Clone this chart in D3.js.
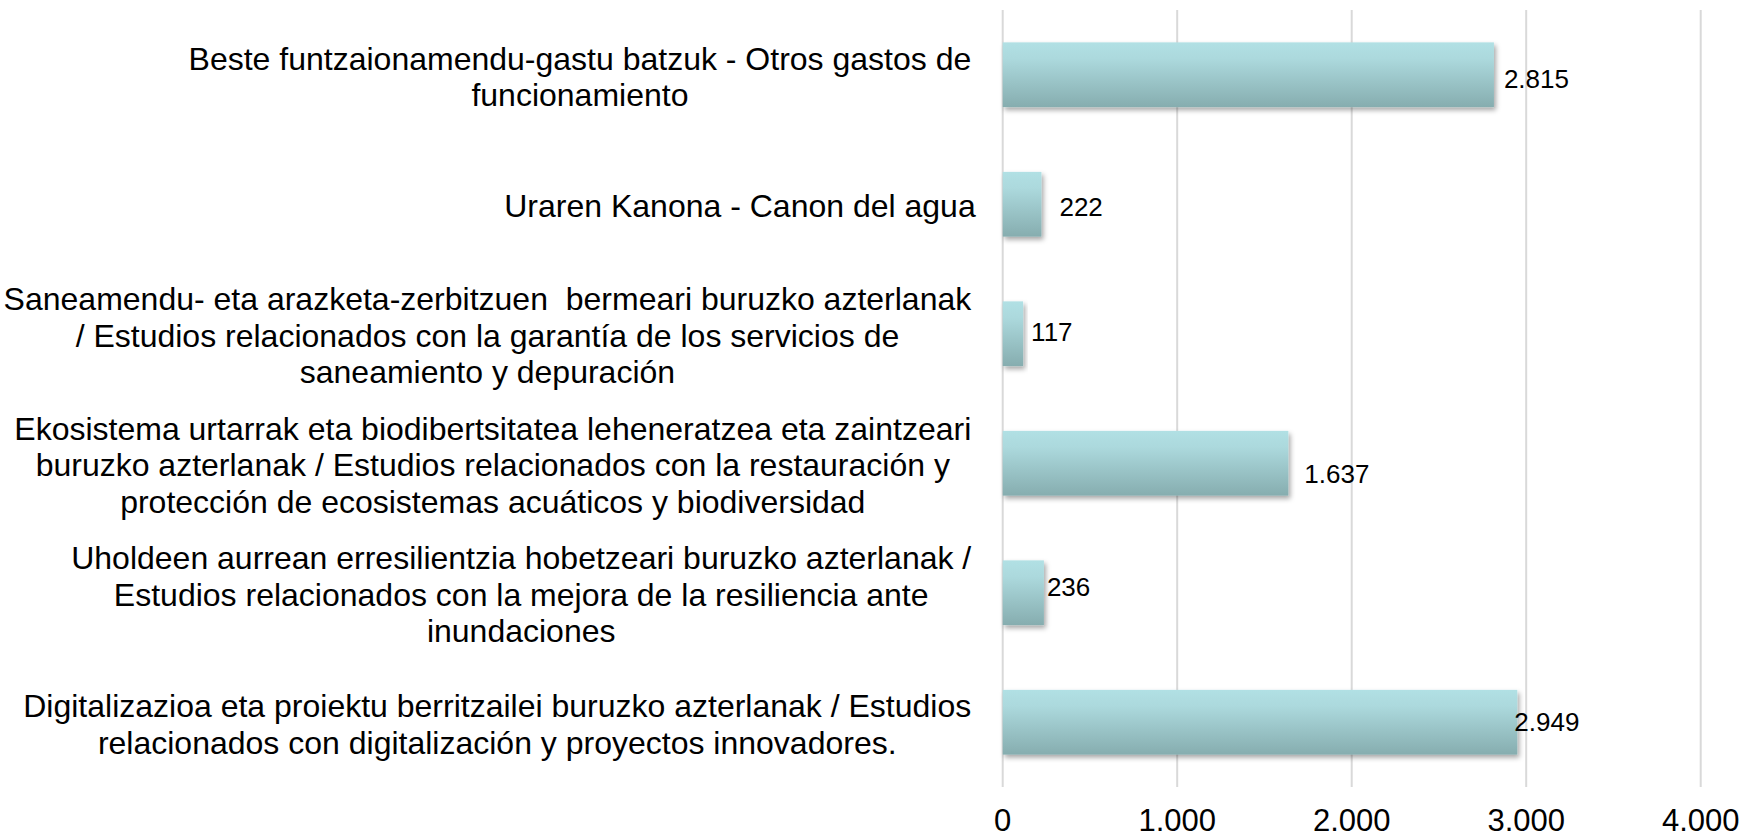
<!DOCTYPE html>
<html>
<head>
<meta charset="utf-8">
<script src="https://cdn.jsdelivr.net/npm/d3@7"></script>
<style>
  body { margin: 0; background: #fff; }
  svg text { font-family: "Liberation Sans", Arial, sans-serif; white-space: pre; }
</style>
</head>
<body>
<svg id="chart"></svg>
<script>
// Categories (each entry = wrapped lines, top to bottom as in the chart)
var categories = [
    ["Beste funtzaionamendu-gastu batzuk - Otros gastos de", "funcionamiento"],
    ["Uraren Kanona - Canon del agua"],
    ["Saneamendu- eta arazketa-zerbitzuen  bermeari buruzko azterlanak", "/ Estudios relacionados con la garantía de los servicios de", "saneamiento y depuración"],
    ["Ekosistema urtarrak eta biodibertsitatea leheneratzea eta zaintzeari", "buruzko azterlanak / Estudios relacionados con la restauración y", "protección de ecosistemas acuáticos y biodiversidad"],
    ["Uholdeen aurrean erresilientzia hobetzeari buruzko azterlanak /", "Estudios relacionados con la mejora de la resiliencia ante", "inundaciones"],
    ["Digitalizazioa eta proiektu berritzailei buruzko azterlanak / Estudios", "relacionados con digitalización y proyectos innovadores."]
];
var values = [2815, 222, 117, 1637, 236, 2949];
var tickValues = [0, 1000, 2000, 3000, 4000];
var tickLabels = ["0", "1.000", "2.000", "3.000", "4.000"];

// data labels were hand-placed in the original, small nudges [dx, dy]
var labelNudge = [[10, 4], [18, 3], [8, -2], [16, 11], [3, -6], [-3, 0]];

var width = 1744, height = 839;
var plotLeft = 1002.7, plotRight = 1700.7, plotTop = 10, plotBottom = 787;

var svg = d3.select("#chart")
    .attr("width", width)
    .attr("height", height);

var defs = svg.append("defs");
var grad = defs.append("linearGradient")
    .attr("id", "barGrad")
    .attr("x1", 0).attr("y1", 0).attr("x2", 0).attr("y2", 1);
grad.append("stop").attr("offset", "0%").attr("stop-color", "#b1e0e4");
grad.append("stop").attr("offset", "25%").attr("stop-color", "#acd9dd");
grad.append("stop").attr("offset", "100%").attr("stop-color", "#86adaf");

var shadow = defs.append("filter")
    .attr("id", "shadow")
    .attr("x", "-10%").attr("y", "-20%")
    .attr("width", "130%").attr("height", "160%");
shadow.append("feDropShadow")
    .attr("dx", 2).attr("dy", 3)
    .attr("stdDeviation", 2.5)
    .attr("flood-color", "#000")
    .attr("flood-opacity", 0.35);

var x = d3.scaleLinear()
    .domain([0, 4000])
    .range([plotLeft, plotRight]);

var y = d3.scaleBand()
    .domain(d3.range(values.length))
    .range([plotTop, plotBottom])
    .paddingInner(0.5)
    .paddingOuter(0.25);

// gridlines
svg.append("g")
    .selectAll("line")
    .data(tickValues)
    .enter().append("line")
        .attr("x1", d => x(d))
        .attr("x2", d => x(d))
        .attr("y1", plotTop)
        .attr("y2", plotBottom)
        .attr("stroke", "#d9d9d9")
        .attr("stroke-width", 2);

// x axis tick labels
svg.append("g")
    .selectAll("text")
    .data(tickValues)
    .enter().append("text")
        .attr("x", d => x(d))
        .attr("y", 831)
        .attr("text-anchor", "middle")
        .attr("font-size", "31px")
        .attr("fill", "#000")
        .text((d, i) => tickLabels[i]);

// bars
svg.append("g")
    .selectAll("rect")
    .data(values)
    .enter().append("rect")
        .attr("x", x(0))
        .attr("y", (d, i) => y(i))
        .attr("width", d => x(d) - x(0))
        .attr("height", y.bandwidth())
        .attr("fill", "url(#barGrad)")
        .attr("filter", "url(#shadow)");

// value labels
svg.append("g")
    .selectAll("text")
    .data(values)
    .enter().append("text")
        .attr("x", (d, i) => x(d) + labelNudge[i][0])
        .attr("y", (d, i) => y(i) + y.bandwidth() / 2 + labelNudge[i][1])
        .attr("dy", "0.35em")
        .attr("font-size", "26px")
        .attr("fill", "#000")
        .text(d => d3.format(",")(d).replace(/,/g, "."));

// category labels: block right-aligned to the axis, lines centred inside the block
var lineHeight = 36.5;
var labelRight = plotLeft - 27;
var catGroup = svg.append("g");

categories.forEach(function(lines, i) {
    var g = catGroup.append("g");
    var texts = lines.map(function(line) {
        return g.append("text")
            .attr("font-size", "32px")
            .attr("fill", "#000")
            .attr("text-anchor", "middle")
            .text(line);
    });
    var spaceW = 0.278 * 32;
    var maxW = d3.max(texts, function(t, j) {
        var w = t.node().getComputedTextLength();
        // wrapped lines keep their trailing space in the block width
        return j < lines.length - 1 ? w + spaceW : w;
    });
    var cx = labelRight - maxW / 2;
    var cy = y(i) + y.bandwidth() / 2 + 2;
    texts.forEach(function(t, j) {
        t.attr("x", cx)
         .attr("y", cy + (j - (lines.length - 1) / 2) * lineHeight)
         .attr("dy", "0.35em");
    });
});
</script>
</body>
</html>
